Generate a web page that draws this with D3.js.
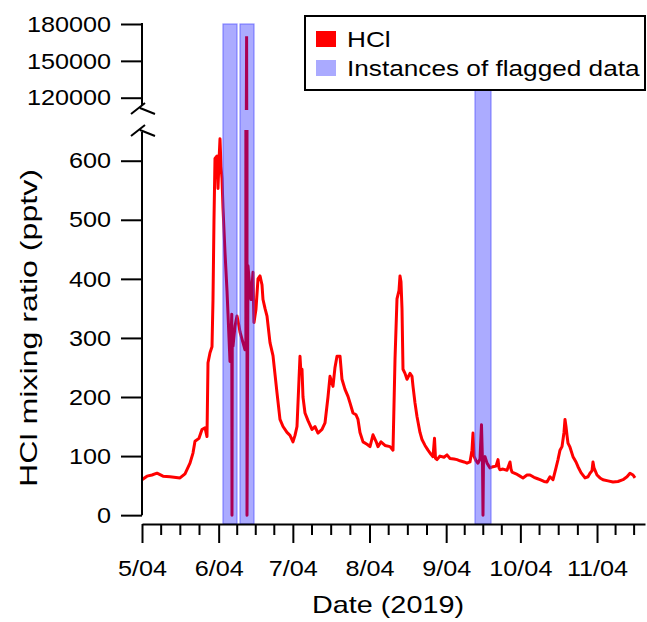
<!DOCTYPE html>
<html>
<head>
<meta charset="utf-8">
<script src="https://cdn.jsdelivr.net/npm/d3@7.9.0/dist/d3.min.js"></script>
<style>
  body { margin: 0; background: #fff; }
  svg { display: block; font-family: "Liberation Sans", Arial, sans-serif; }
</style>
</head>
<body>
<svg id="chart" width="647" height="622"></svg>
<script>
// HCl record, days counted from 2019-05-04 (UTC)
const dayOffsets = [
  0, 2.02, 4.04, 6.07, 8.49, 11.32, 15.37, 17.39, 19.41, 20.62, 21.43, 23.05, 24.26, 25.48, 26.28,
  26.69, 27.50, 28.31, 28.71, 29.11, 29.52, 30.33, 30.73, 31.14, 31.54, 31.95, 32.35, 32.75, 33.56,
  34.37, 34.78, 35.18, 35.58, 35.99, 36.30, 36.39, 36.50, 36.80, 37.61, 38.42, 39.22, 39.63, 40.84,
  41.65, 42.00, 42.30, 42.46, 42.86, 43.67, 44.08, 44.89, 45.29, 46.10, 46.91, 47.72, 48.52, 48.93,
  49.74, 50.55, 51.76, 52.97, 54.59, 55.80, 57.02, 58.63, 59.85, 61.06, 61.87, 62.68, 63.49, 63.89,
  64.29, 64.70, 65.10, 65.91, 67.13, 68.74, 69.96, 71.17, 72.79, 74.00, 75.21, 76.02, 77.23, 78.04,
  78.85, 80.07, 80.87, 82.09, 83.30, 84.11, 85.32, 86.54, 87.34, 88.15, 89.37, 90.98, 92.20, 93.41,
  94.62, 95.43, 96.64, 98.26, 100.28, 101.50, 102.31, 103.11, 103.92, 104.33, 104.73, 105.14, 105.54,
  106.35, 107.16, 108.37, 109.18, 109.59, 110.39, 111.20, 112.41, 113.22, 114.44, 115.65, 116.86,
  117.67, 118.28, 118.68, 119.29, 120.50, 122.12, 123.33, 124.55, 126.16, 127.38, 128.59, 130.21,
  131.42, 132.63, 133.44, 133.85, 134.25, 135.06, 135.87, 136.68, 137.28, 137.69, 137.89, 138.09,
  138.70, 139.51, 140.72, 141.93, 143.15, 143.96, 144.36, 144.76, 145.98, 147.60, 148.81, 149.21,
  149.62, 151.23, 152.85, 154.06, 155.68, 156.90, 158.51, 159.73, 160.94, 162.56, 163.77, 164.98,
  166.20, 167.41, 168.22, 169.03, 169.84, 170.64, 171.05, 171.45, 171.86, 172.26, 173.07, 174.28,
  175.50, 176.31, 177.52, 179.14, 180.35, 181.16, 181.97, 182.37, 182.78, 183.99, 185.20, 186.41,
  188.44, 190.46, 192.48, 194.50, 196.12, 197.33, 198.55, 199.35
];
const hclValues = [
  60, 66, 68, 71, 66, 65, 63, 70, 88, 105, 125, 130, 145, 148, 133,
  258, 275, 285, 365, 500, 604, 608, 553, 600, 637, 590, 570, 520, 445,
  380, 340, 300, 260, 300, 340, 0, 300, 286, 320, 337, 320, 310, 292,
  280, 285, 170000, 0, 422, 380, 365, 411, 326, 349, 400, 405, 390, 365,
  350, 337, 292, 270, 207, 162, 150, 140, 135, 124, 135, 150, 230, 269,
  240, 247, 200, 173, 160, 145, 150, 139, 145, 156, 200, 235, 218, 250,
  269, 269, 230, 213, 201, 190, 173, 170, 162, 140, 124, 120, 116, 136,
  125, 116, 124, 118, 116, 110, 264, 366, 380, 405, 395, 349, 247,
  240, 230, 240, 235, 218, 190, 167, 140, 128, 118, 110, 103,
  99, 130, 96, 94, 100, 98, 102, 96, 95, 94, 92, 90,
  88, 90, 110, 139, 100, 92, 88, 95, 153, 90, 0, 95,
  99, 88, 80, 82, 83, 94, 80, 77, 78, 76, 90, 78,
  73, 70, 66, 63, 68, 68, 64, 62, 60, 57, 56, 65,
  60, 80, 94, 110, 116, 140, 162, 150, 135, 122, 115, 99,
  90, 82, 72, 63, 65, 71, 75, 90, 80, 68, 63, 60,
  58, 56, 57, 60, 65, 71, 68, 63
];

// flagged periods [start, end] in days from 2019-05-04
const flagStart = [32.75, 39.63, 134.66];
const flagEnd = [38.42, 45.29, 141.13];

const lowerTicks = [0, 100, 200, 300, 400, 500, 600];
const upperTicks = [120000, 150000, 180000];
const monthTicks = ['2019-05-04', '2019-06-04', '2019-07-04', '2019-08-04', '2019-09-04', '2019-10-04', '2019-11-04', '2019-12-04'];

const legendLabels = ['HCl', 'Instances of flagged data'];

const t0 = Date.UTC(2019, 4, 4);
const toDate = d => new Date(t0 + d * 864e5);
const data = dayOffsets.map((d, i) => ({ date: toDate(d), v: hclValues[i] }));

const svg = d3.select('#chart');

const x = d3.scaleUtc()
  .domain([toDate(0), toDate(203.4)])
  .range([142, 645]);
const yLow = d3.scaleLinear().domain([-15, 652]).range([524, 130]);
const yUp = d3.scaleLinear().domain([110000, 180000]).range([110, 24]);

// stretch text horizontally like the original export
function stretch(sel, k) {
  sel.each(function () {
    const w = this.getComputedTextLength();
    this.setAttribute('textLength', w * k);
    this.setAttribute('lengthAdjust', 'spacingAndGlyphs');
  });
}

const defs = svg.append('defs');
defs.append('clipPath').attr('id', 'clipLow')
  .append('rect').attr('x', 142).attr('y', 130).attr('width', 505).attr('height', 394);
defs.append('clipPath').attr('id', 'clipUp')
  .append('rect').attr('x', 142).attr('y', 18).attr('width', 505).attr('height', 92);

// data line in both panels
const lineLow = d3.line().x(d => x(d.date)).y(d => yLow(d.v));
const lineUp = d3.line().x(d => x(d.date)).y(d => yUp(d.v));

svg.append('path').datum(data)
  .attr('clip-path', 'url(#clipLow)')
  .attr('d', lineLow)
  .attr('fill', 'none').attr('stroke', '#ff0000').attr('stroke-width', 3)
  .attr('stroke-linejoin', 'round');
svg.append('path').datum(data)
  .attr('clip-path', 'url(#clipUp)')
  .attr('d', lineUp)
  .attr('fill', 'none').attr('stroke', '#ff0000').attr('stroke-width', 3);

// flagged bands on top (semi transparent)
svg.append('g').selectAll('rect')
  .data(flagStart.map((s, i) => ({ s: toDate(s), e: toDate(flagEnd[i]) })))
  .join('rect')
  .attr('x', d => x(d.s))
  .attr('width', d => x(d.e) - x(d.s))
  .attr('y', yUp(180000))
  .attr('height', yLow(-15) - yUp(180000))
  .attr('fill', '#0000ff').attr('fill-opacity', 0.33)
  .attr('stroke', '#5050ff').attr('stroke-opacity', 0.6).attr('stroke-width', 1.2);

// y axes (no domain path, drawn by hand)
const gLow = svg.append('g').attr('transform', 'translate(142,0)')
  .call(d3.axisLeft(yLow).tickValues(lowerTicks).tickSize(21).tickPadding(10).tickSizeOuter(0));
const gUp = svg.append('g').attr('transform', 'translate(142,0)')
  .call(d3.axisLeft(yUp).tickValues(upperTicks).tickSize(21).tickPadding(10).tickSizeOuter(0).tickFormat(d3.format('d')));

[gLow, gUp].forEach(g => {
  g.select('.domain').remove();
  g.selectAll('line').attr('stroke', '#000').attr('stroke-width', 2);
  g.selectAll('text').attr('font-size', 22.5).attr('fill', '#000')
    .attr('font-family', '"Liberation Sans", Arial, sans-serif');
  stretch(g.selectAll('text'), 1.12);
});

svg.append('line').attr('x1', 142).attr('x2', 142)
  .attr('y1', yLow(0)).attr('y2', 132)
  .attr('stroke', '#000').attr('stroke-width', 2);
svg.append('line').attr('x1', 142).attr('x2', 142)
  .attr('y1', yUp(180000) - 1).attr('y2', 106)
  .attr('stroke', '#000').attr('stroke-width', 2);

// axis break marks
[0, 22].forEach(dy => {
  svg.append('path')
    .attr('d', `M131,${114 + dy} L145,${103 + dy} M140,${108 + dy} L155,${114 + dy}`)
    .attr('fill', 'none').attr('stroke', '#000').attr('stroke-width', 2);
});

// x axis
const majors = monthTicks.map(s => new Date(s + 'T00:00:00Z'));
const minors = [];
for (let i = 0; i < majors.length - 1; i++) {
  const a = +majors[i], b = +majors[i + 1];
  for (let q = 1; q < 4; q++) minors.push(new Date(a + (b - a) * q / 4));
}
const xEnd = x.domain()[1];
const gx = svg.append('g').attr('transform', 'translate(0,524)')
  .call(d3.axisBottom(x).tickValues(majors.filter(d => d <= xEnd))
    .tickFormat(d3.utcFormat('%-m/%d')).tickSize(19).tickPadding(17).tickSizeOuter(0));
gx.select('.domain').attr('stroke', '#000').attr('stroke-width', 2);
gx.selectAll('line').attr('stroke', '#000').attr('stroke-width', 2);
gx.selectAll('text').attr('font-size', 22.5).attr('fill', '#000')
  .attr('font-family', '"Liberation Sans", Arial, sans-serif');
stretch(gx.selectAll('text'), 1.12);

svg.append('g').selectAll('line')
  .data(minors.filter(d => d <= xEnd))
  .join('line')
  .attr('x1', d => x(d)).attr('x2', d => x(d))
  .attr('y1', 524).attr('y2', 535)
  .attr('stroke', '#000').attr('stroke-width', 2);

// axis titles
const xt = svg.append('text').attr('x', 388).attr('y', 613)
  .attr('text-anchor', 'middle').attr('font-size', 24).text('Date (2019)');
stretch(xt, 1.2);

const yt = svg.append('text').attr('transform', 'translate(37,328) rotate(-90)')
  .attr('text-anchor', 'middle').attr('font-size', 24).text('HCl mixing ratio (pptv)');
stretch(yt, 1.34);

// legend
const lg = svg.append('g');
lg.append('rect').attr('x', 305).attr('y', 16).attr('width', 340).attr('height', 74)
  .attr('fill', '#fff').attr('stroke', '#000').attr('stroke-width', 2);
const swatch = ['#ff0000', '#aaaaff'];
legendLabels.forEach((lab, i) => {
  lg.append('rect').attr('x', 316).attr('y', 31 + i * 29).attr('width', 20).attr('height', 16)
    .attr('fill', swatch[i]);
  const t = lg.append('text').attr('x', 347).attr('y', 47 + i * 29)
    .attr('font-size', 22).text(lab);
  stretch(t, 1.19);
});
</script>
</body>
</html>
